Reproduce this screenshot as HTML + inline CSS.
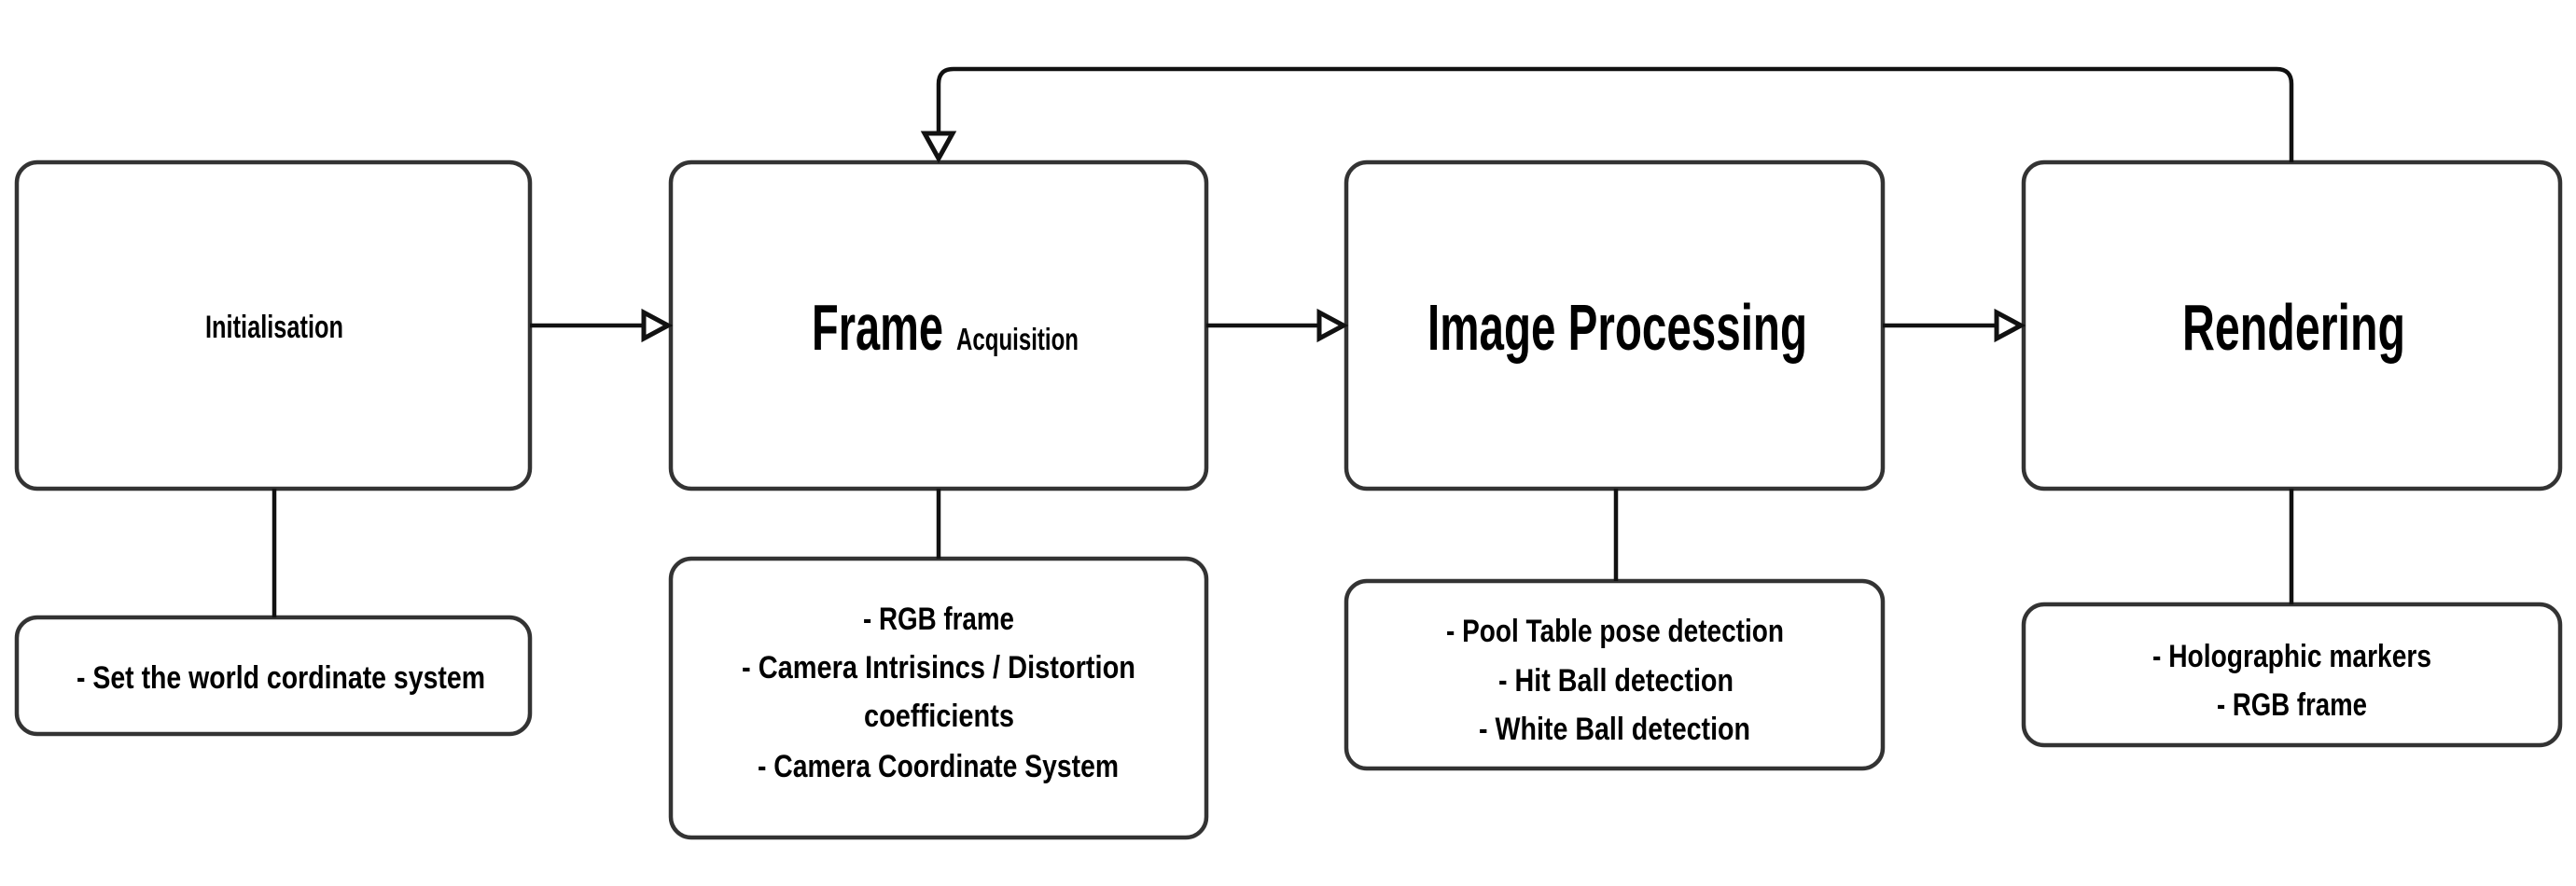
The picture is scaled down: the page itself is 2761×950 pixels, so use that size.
<!DOCTYPE html>
<html><head><meta charset="utf-8"><style>
html,body{margin:0;padding:0;background:#fff;}
svg{display:block;}
text{font-family:"Liberation Sans Narrow","Liberation Sans",sans-serif;font-weight:bold;fill:#000;}
</style></head><body>
<svg width="2761" height="950" viewBox="0 0 2761 950" xmlns="http://www.w3.org/2000/svg">
<g fill="#fff" stroke="#333" stroke-width="4.5">
<rect x="18" y="174" width="550" height="350" rx="22"/>
<rect x="719" y="174" width="574" height="350" rx="22"/>
<rect x="1443" y="174" width="575" height="350" rx="22"/>
<rect x="2169" y="174" width="575" height="350" rx="22"/>
<rect x="18" y="662" width="550" height="125" rx="22"/>
<rect x="719" y="599" width="574" height="299" rx="22"/>
<rect x="1443" y="623" width="575" height="201" rx="22"/>
<rect x="2169" y="648" width="575" height="151" rx="22"/>
</g>
<g stroke="#111" stroke-width="4.5" fill="none">
<line x1="294" y1="524" x2="294" y2="662"/>
<line x1="1006" y1="524" x2="1006" y2="599"/>
<line x1="1732" y1="524" x2="1732" y2="623"/>
<line x1="2456" y1="524" x2="2456" y2="648"/>
<line x1="568" y1="349" x2="688" y2="349"/>
<line x1="1293" y1="349" x2="1412" y2="349"/>
<line x1="2018" y1="349" x2="2138" y2="349"/>
<path d="M2456 174 V90 Q2456 74 2440 74 H1022 Q1006 74 1006 90 V142"/>
</g>
<g fill="#fff" stroke="#111" stroke-width="5" stroke-linejoin="miter">
<polygon points="690,335 690,363 716,349"/>
<polygon points="1414,335 1414,363 1440,349"/>
<polygon points="2140,335 2140,363 2166,349"/>
<polygon points="991,143 1021,143 1006,170"/>
</g>
<text x="220" y="362" font-size="34" textLength="148" lengthAdjust="spacingAndGlyphs">Initialisation</text>
<text x="870" y="375" font-size="70" textLength="141" lengthAdjust="spacingAndGlyphs">Frame</text>
<text x="1025" y="375" font-size="33" textLength="131" lengthAdjust="spacingAndGlyphs">Acquisition</text>
<text x="1530" y="375" font-size="70" textLength="407" lengthAdjust="spacingAndGlyphs">Image Processing</text>
<text x="2339" y="375" font-size="70" textLength="239" lengthAdjust="spacingAndGlyphs">Rendering</text>
<g font-size="34">
<text x="82" y="738" textLength="438" lengthAdjust="spacingAndGlyphs">- Set the world cordinate system</text>
<text x="925" y="675" textLength="162" lengthAdjust="spacingAndGlyphs">- RGB frame</text>
<text x="795" y="727" textLength="422" lengthAdjust="spacingAndGlyphs">- Camera Intrisincs / Distortion</text>
<text x="926" y="779" textLength="161" lengthAdjust="spacingAndGlyphs">coefficients</text>
<text x="812" y="833" textLength="387" lengthAdjust="spacingAndGlyphs">- Camera Coordinate System</text>
<text x="1550" y="688" textLength="362" lengthAdjust="spacingAndGlyphs">- Pool Table pose detection</text>
<text x="1606" y="741" textLength="252" lengthAdjust="spacingAndGlyphs">- Hit Ball detection</text>
<text x="1585" y="793" textLength="291" lengthAdjust="spacingAndGlyphs">- White Ball detection</text>
<text x="2307" y="715" textLength="299" lengthAdjust="spacingAndGlyphs">- Holographic markers</text>
<text x="2376" y="767" textLength="161" lengthAdjust="spacingAndGlyphs">- RGB frame</text>
</g>
</svg>
</body></html>
